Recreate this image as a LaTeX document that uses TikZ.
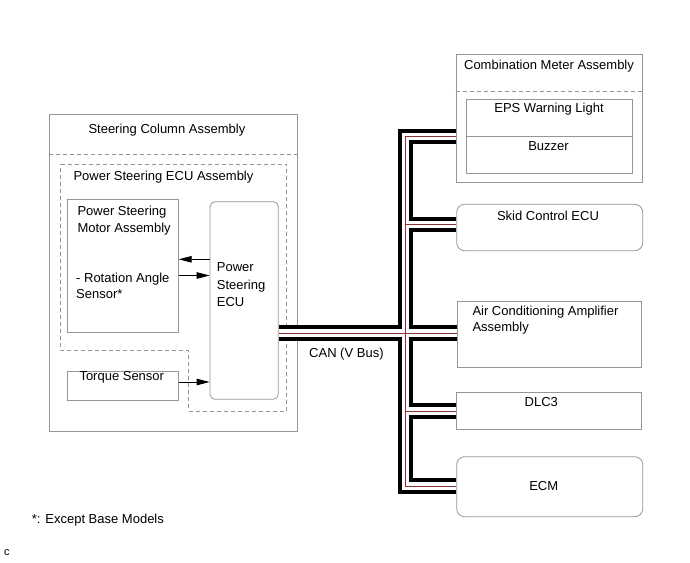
\documentclass[tikz,border=0pt]{standalone}
\usepackage{fontspec}
\setmainfont{Liberation Sans}
\usetikzlibrary{arrows.meta}
\usetikzlibrary{calc}
\definecolor{boxgray}{RGB}{150,150,150}
\definecolor{canred}{RGB}{140,50,50}

\begin{document}
\begin{tikzpicture}[x=1pt,y=-1pt,
  box/.style={draw=boxgray, line width=0.8pt, inner sep=0pt},
  txt/.style={inner sep=0pt, font=\fontsize{13}{16.5}\selectfont, align=left},
  sep/.style={draw=boxgray, line width=0.8pt, dash pattern=on 4pt off 3pt},
  sig/.style={line width=0.8pt, -{Triangle[length=13pt,width=6.5pt]}},
  bus/.style={draw=black, double=white, line width=4pt, double distance=7.5pt},
  wire/.style={line width=0.6pt}]
\useasboundingbox (0,0) rectangle (690,562);
% steering column side
\node[box, minimum width=248.7, minimum height=317.7] (scol) at (173.35,272.85) {};
\node[box, minimum width=111, minimum height=133.4] (motor) at (122.8,266) {};
\node[box, rounded corners=5pt, minimum width=68.3, minimum height=197.6] (psecu) at (244.15,300.5) {};
\node[box, minimum width=111, minimum height=29] (torque) at (122.8,386.2) {};
\draw[sep] (scol.west |- 0,154.3) -- (scol.east |- 0,154.3);
\draw[sep] (60.7,164) -- (286.7,164) -- (286.7,411) -- (188.3,411) -- (188.3,350.7) -- (60.7,350.7) -- cycle;
\node[txt, anchor=base west] (scoltxt) at (88.3,133) {Steering Column Assembly};
\node[txt, anchor=base west] (psatxt) at (73.3,180.7) {Power Steering ECU Assembly};
\node[txt, anchor=base west] (motortxt) at (77.3,232) {Power Steering\\Motor Assembly};
\node[txt, anchor=base west] (rottxt) at (76,298.5) {- Rotation Angle\\Sensor*};
\node[txt, anchor=base west] (psecutxt) at (216.7,306.5) {Power\\[1pt]Steering\\[1pt]ECU};
\node[txt, anchor=base west] (torquetxt) at (79.3,380) {Torque Sensor};
\draw[sig] (psecu.west |- 0,259.3) -- (motor.east |- 0,259.3);
\draw[sig] (motor.east |- 0,275.5) -- (psecu.west |- 0,275.5);
\draw[sig] (torque.east |- 0,382) -- (psecu.west |- 0,382);
% other ECUs
\node[box, minimum width=186.7, minimum height=128.7] (combo) at (549.35,118.35) {};
\node[box, minimum width=166.7, minimum height=37.4] (eps) at (549.35,118) {};
\node[box, minimum width=166.7, minimum height=36.6] (buzzer) at (549.35,155) {};
\node[box, rounded corners=8pt, minimum width=186, minimum height=46.4] (skid) at (549.7,227.5) {};
\node[box, minimum width=183.7, minimum height=65.6] (ac) at (549.15,334.5) {};
\node[box, minimum width=185, minimum height=37] (dlc) at (549.2,410.8) {};
\node[box, rounded corners=8pt, minimum width=186, minimum height=60] (ecm) at (549.7,486.7) {};
\draw[sep] (combo.west |- 0,91.7) -- (combo.east |- 0,91.7);
\node[txt, anchor=base] (combotxt) at (549,69.3) {Combination Meter Assembly};
\node[txt, anchor=base] (epstxt) at (549,112.7) {EPS Warning Light};
\node[txt, anchor=base] (buzzertxt) at (548.5,150) {Buzzer};
\node[txt, anchor=base] (skidtxt) at (548,220.7) {Skid Control ECU};
\node[txt, anchor=base west] (actxt) at (472.3,331.5) {Air Conditioning Amplifier\\Assembly};
\node[txt, anchor=base] (dlctxt) at (541.3,406.7) {DLC3};
\node[txt, anchor=base] (ecmtxt) at (543.7,490) {ECM};
% CAN bus
\coordinate (b1) at (405.7,136.3);
\coordinate (b2) at (405.7,224.3);
\coordinate (b3) at (405.7,333);
\coordinate (b4) at (405.7,410.8);
\coordinate (b5) at (405.7,486.2);
\draw[bus] (combo.west |- b1) -- (b1) -- (b5) -- (ecm.west |- b5)
  (b2) -- (skid.west |- b2) (psecu.east |- b3) -- (ac.west |- b3)
  (b4) -- (dlc.west |- b4);
\foreach \dd/\col in {-1.4/boxgray, 1.4/canred}
  \draw[wire, draw=\col, shift={(\dd,\dd)}] (combo.west |- b1) -- (b1) -- (b5) -- (ecm.west |- b5)
    (b2) -- (skid.west |- b2) (psecu.east |- b3) -- (ac.west |- b3)
    (b4) -- (dlc.west |- b4);
\node[txt, anchor=base west] (cantxt) at (309,357.3) {CAN (V Bus)};
\node[txt, anchor=base west] (notetxt) at (31.7,523.3) {*: Except Base Models};
\node[txt, anchor=base west, font=\fontsize{11}{13}\selectfont] (codetxt) at (4,555.3) {c};
\end{tikzpicture}
\end{document}
